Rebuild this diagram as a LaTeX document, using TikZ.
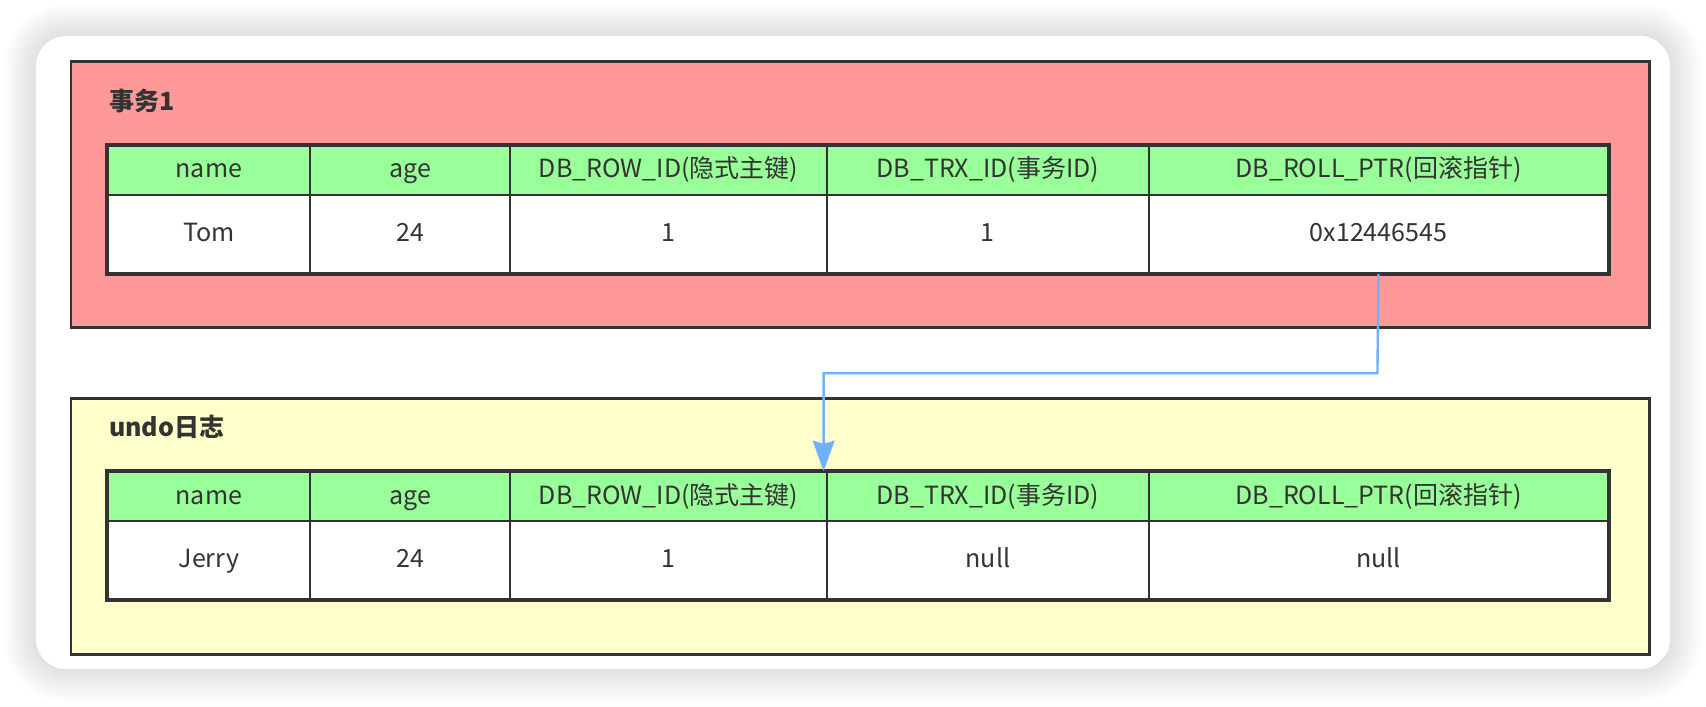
\documentclass[tikz,border=0pt]{standalone}
\usepackage{fontspec}
\setmainfont{Noto Sans CJK SC}
\usetikzlibrary{arrows.meta}
\definecolor{bd}{HTML}{333333}
\definecolor{tx}{HTML}{333333}
\definecolor{redbox}{HTML}{FF9999}
\definecolor{yelbox}{HTML}{FFFFCC}
\definecolor{hdr}{HTML}{99FF99}
\definecolor{ptrc}{HTML}{6FB1FF}
\tikzset{
  cell/.style={draw=bd, line width=2pt, inner sep=0pt, anchor=north west,
    text=tx, font=\fontsize{23}{27}\selectfont,
    text height=1.4em, text depth=0.05em},
  headcell/.style={cell, fill=hdr, minimum height=45pt},
  valcell/.style={cell, fill=white, minimum height=72pt},
  container/.style={draw=bd, line width=2.5pt, anchor=north west, inner sep=0pt,
    minimum width=1451pt, minimum height=245pt},
  boxtitle/.style={anchor=west, inner sep=0pt, text=tx,
    font=\fontsize{23}{27}\selectfont\bfseries},
  tableframe/.style={draw=bd, line width=3pt},
  ptr/.style={draw=ptrc, line width=2.2pt,
    -{Stealth[width=20pt,length=28pt,inset=3pt]}},
}
\begin{document}
\begin{tikzpicture}[x=1pt,y=-1pt]
\useasboundingbox (0,0) rectangle (1568,649);
\fill[white] (0,0) rectangle (1568,649);
% card shadow
\foreach \i in {1,...,30}{
  \fill[black, opacity=0.005, rounded corners={28pt+\i pt}]
    (33-\i,33-\i) rectangle (1535+\i,615+\i);
}
\fill[white, rounded corners=28pt] (33,33) rectangle (1535,615);
% containers
\node[container, fill=redbox] (trx) at (64,55) {};
\node[container, fill=yelbox, minimum height=235pt] (undo) at (64,365) {};
\node[boxtitle] (trxtitle) at (100,93) {事务1};
\node[boxtitle] (undotitle) at (100,392) {undo日志};
% top table
\foreach \i/\xa/\xb/\h/\v in {1/98/284/name/Tom, 2/284/468/age/24,
  3/468/759/DB\_ROW\_ID(隐式主键)/1, 4/759/1055/DB\_TRX\_ID(事务ID)/1,
  5/1055/1477/DB\_ROLL\_PTR(回滚指针)/0x12446545}{
  \node[headcell, minimum width={\xb pt-\xa pt}] (t-h\i) at (\xa,133) {\h};
  \node[valcell, minimum width={\xb pt-\xa pt}] (t-v\i) at (\xa,178) {\v};
}
\draw[tableframe] (t-h1.north west) rectangle (t-v5.south east);
% undo table
\foreach \i/\xa/\xb/\h/\v in {1/98/284/name/Jerry, 2/284/468/age/24,
  3/468/759/DB\_ROW\_ID(隐式主键)/1, 4/759/1055/DB\_TRX\_ID(事务ID)/null,
  5/1055/1477/DB\_ROLL\_PTR(回滚指针)/null}{
  \node[headcell, minimum width={\xb pt-\xa pt}] (u-h\i) at (\xa,433) {\h};
  \node[valcell, minimum width={\xb pt-\xa pt}] (u-v\i) at (\xa,478) {\v};
}
\draw[tableframe] (u-h1.north west) rectangle (u-v5.south east);
% pointer
\coordinate (bend) at (1266,343);
\draw[ptr] (t-v5.south) -- (bend) -| ([xshift=-2pt]u-h4.north west);
\end{tikzpicture}
\end{document}
